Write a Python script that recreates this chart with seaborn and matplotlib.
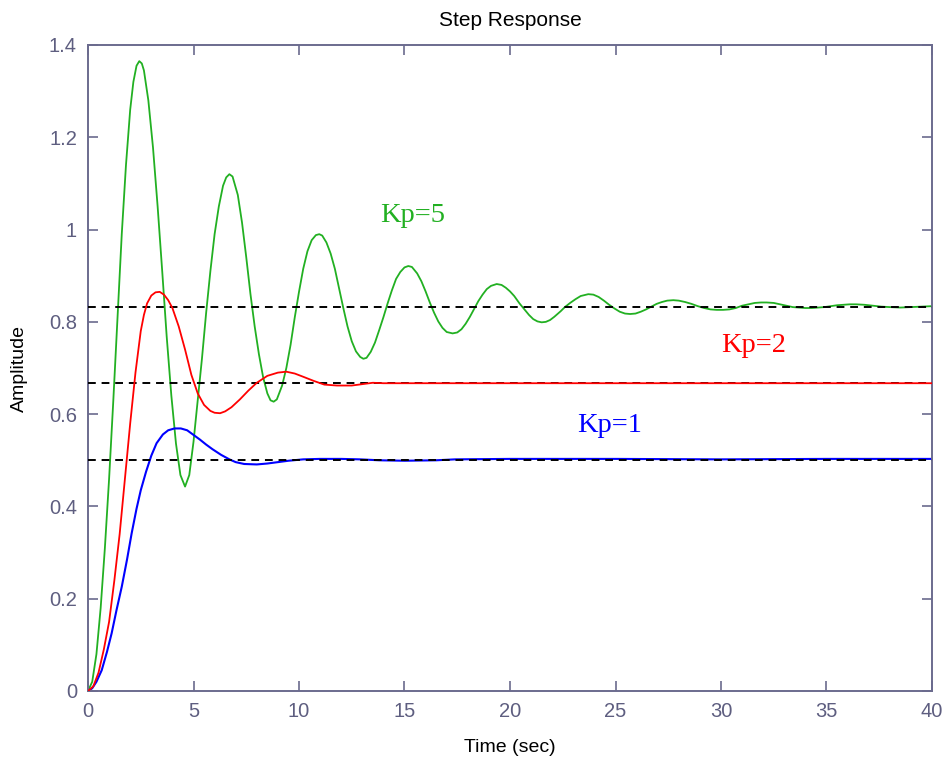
import numpy as np
import pandas as pd
import matplotlib
matplotlib.use("Agg")
import matplotlib.pyplot as plt
import seaborn as sns

# ---- data ----
t_kp5 = [0.0, 0.2, 0.4, 0.6, 0.8, 1.0, 1.2, 1.4, 1.6, 1.8, 2.0, 2.15, 2.3, 2.43, 2.55,
         2.65, 2.86, 3.08, 3.3, 3.52, 3.73, 3.95, 4.17, 4.38, 4.6, 4.8, 5.0, 5.2, 5.4,
         5.6, 5.8, 6.0, 6.2, 6.4, 6.55, 6.7, 6.85, 7.1, 7.3, 7.5, 7.7, 7.9, 8.1, 8.3,
         8.5, 8.65, 8.8, 8.95, 9.2, 9.4, 9.6, 9.8, 10.0, 10.2, 10.4, 10.6, 10.8, 10.96,
         11.1, 11.3, 11.5, 11.7, 11.9, 12.1, 12.3, 12.5, 12.7, 12.9, 13.05, 13.2, 13.4,
         13.6, 13.8, 14.0, 14.2, 14.4, 14.6, 14.8, 15.0, 15.18, 15.35, 15.6, 15.8, 16.0,
         16.2, 16.4, 16.6, 16.8, 17.0, 17.28, 17.5, 17.7, 17.9, 18.1, 18.3, 18.5, 18.7,
         18.9, 19.1, 19.37, 19.6, 19.8, 20.0, 20.2, 20.45, 20.7, 20.9, 21.1, 21.3, 21.5,
         21.7, 21.9, 22.1, 22.4, 22.6, 22.85, 23.1, 23.35, 23.71, 23.95, 24.2, 24.45,
         24.7, 24.95, 25.2, 25.45, 25.69, 25.95, 26.2, 26.45, 26.7, 26.95, 27.2, 27.45,
         27.74, 28.0, 28.3, 28.6, 28.9, 29.2, 29.5, 29.8, 30.1, 30.4, 30.7, 31.0, 31.3,
         31.6, 31.9, 32.17, 32.5, 32.8, 33.1, 33.4, 33.7, 34.0, 34.3, 34.6, 34.9, 35.2,
         35.5, 35.8, 36.1, 36.4, 36.8, 37.2, 37.6, 38.0, 38.5, 39.0, 39.5, 40.0]
y_kp5 = [0.000, 0.020, 0.080, 0.180, 0.310, 0.460, 0.630, 0.810, 0.990, 1.140, 1.260,
         1.320, 1.355, 1.365, 1.360, 1.345, 1.280, 1.178, 1.050, 0.908, 0.768, 0.640,
         0.536, 0.468, 0.443, 0.468, 0.540, 0.630, 0.720, 0.820, 0.910, 0.990, 1.050,
         1.095, 1.113, 1.120, 1.115, 1.075, 1.015, 0.940, 0.860, 0.790, 0.730, 0.680,
         0.645, 0.630, 0.627, 0.632, 0.662, 0.700, 0.750, 0.810, 0.865, 0.915, 0.953,
         0.977, 0.988, 0.990, 0.987, 0.972, 0.948, 0.915, 0.872, 0.830, 0.790, 0.758,
         0.736, 0.724, 0.720, 0.722, 0.735, 0.755, 0.782, 0.810, 0.840, 0.868, 0.893,
         0.908, 0.918, 0.921, 0.919, 0.905, 0.888, 0.866, 0.842, 0.820, 0.801, 0.787,
         0.778, 0.775, 0.777, 0.784, 0.796, 0.811, 0.828, 0.845, 0.859, 0.871, 0.878,
         0.882, 0.880, 0.874, 0.866, 0.856, 0.840, 0.826, 0.815, 0.806, 0.801, 0.799,
         0.800, 0.804, 0.811, 0.823, 0.832, 0.841, 0.849, 0.856, 0.860, 0.859, 0.854,
         0.846, 0.837, 0.829, 0.822, 0.818, 0.817, 0.818, 0.822, 0.827, 0.833, 0.839,
         0.843, 0.846, 0.847, 0.846, 0.843, 0.839, 0.834, 0.830, 0.827, 0.826, 0.826,
         0.827, 0.830, 0.835, 0.838, 0.841, 0.842, 0.842, 0.841, 0.838, 0.835, 0.832,
         0.831, 0.830, 0.830, 0.831, 0.832, 0.834, 0.836, 0.837, 0.838, 0.838, 0.837,
         0.835, 0.833, 0.832, 0.831, 0.832, 0.833, 0.834]

t_kp2 = [0.0, 0.25, 0.5, 0.75, 1.0, 1.25, 1.5, 1.75, 2.0, 2.25, 2.5, 2.65, 2.8, 3.0,
         3.2, 3.4, 3.6, 3.8, 4.0, 4.3, 4.6, 4.9, 5.2, 5.5, 5.8, 6.0, 6.26, 6.5, 6.8,
         7.2, 7.6, 8.0, 8.5, 9.0, 9.4, 9.8, 10.2, 10.7, 11.2, 11.8, 12.5, 13.0, 13.5,
         14.0, 20.0, 30.0, 40.0]
y_kp2 = [0.000, 0.010, 0.040, 0.090, 0.150, 0.240, 0.340, 0.460, 0.580, 0.690, 0.780,
         0.815, 0.840, 0.857, 0.864, 0.865, 0.859, 0.847, 0.830, 0.790, 0.740, 0.685,
         0.645, 0.620, 0.607, 0.603, 0.602, 0.606, 0.615, 0.632, 0.651, 0.668, 0.683,
         0.690, 0.692, 0.688, 0.681, 0.672, 0.664, 0.662, 0.662, 0.665, 0.668, 0.667,
         0.667, 0.667, 0.667]

t_kp1 = [0.0, 0.2, 0.4, 0.65, 0.9, 1.12, 1.35, 1.6, 1.85, 2.07, 2.3, 2.5, 2.75, 3.0,
         3.25, 3.55, 3.8, 4.1, 4.4, 4.7, 5.0, 5.3, 5.6, 5.9, 6.3, 6.7, 7.0, 7.4, 8.0,
         8.5, 9.0, 9.5, 10.2, 11.0, 12.0, 12.9, 13.8, 15.0, 16.5, 17.4, 20.0, 25.0,
         30.0, 35.0, 40.0]
y_kp1 = [0.000, 0.006, 0.020, 0.045, 0.085, 0.125, 0.175, 0.226, 0.285, 0.342, 0.395,
         0.435, 0.475, 0.510, 0.537, 0.556, 0.565, 0.569, 0.569, 0.565, 0.555, 0.545,
         0.534, 0.524, 0.512, 0.502, 0.496, 0.492, 0.491, 0.493, 0.496, 0.499, 0.502,
         0.503, 0.503, 0.502, 0.500, 0.499, 0.500, 0.502, 0.503, 0.503, 0.502, 0.503,
         0.503]

steady_values = [0.5, 0.667, 0.833]
series_names = ["Kp=1", "Kp=2", "Kp=5"]
series_colors = ["#0000ff", "#ff0000", "#22b022"]
label_t = [24.74, 31.53, 15.38]
label_y = [0.575, 0.748, 1.030]

x_ticks = [0, 5, 10, 15, 20, 25, 30, 35, 40]
y_ticks = [0, 0.2, 0.4, 0.6, 0.8, 1.0, 1.2, 1.4]
y_tick_labels = ["0", "0.2", "0.4", "0.6", "0.8", "1", "1.2", "1.4"]

# ---- plotting ----
sns.set_style("white")
plt.rcParams["font.family"] = ["Liberation Sans", "DejaVu Sans"]

axis_col = "#6b6b8e"
tick_lab_col = "#5e5e80"

fig = plt.figure(figsize=(9.44, 7.6), dpi=100)
ax = fig.add_axes([88 / 944, 1 - 691 / 760, (932 - 88) / 944, (691 - 45) / 760])

df1 = pd.DataFrame({"t": t_kp1, "y": y_kp1})
df2 = pd.DataFrame({"t": t_kp2, "y": y_kp2})
df5 = pd.DataFrame({"t": t_kp5, "y": y_kp5})

sns.lineplot(data=df5, x="t", y="y", ax=ax, color=series_colors[2], lw=1.3, zorder=2)
sns.lineplot(data=df1, x="t", y="y", ax=ax, color=series_colors[0], lw=1.5, zorder=2)
for v in steady_values:
    ax.axhline(v, color="black", lw=1.4, ls=(0, (4, 3)), zorder=3)
sns.lineplot(data=df2, x="t", y="y", ax=ax, color=series_colors[1], lw=1.3, zorder=4)

for name, col, tx, ty in zip(series_names, series_colors, label_t, label_y):
    ax.text(tx, ty, name, color=col, fontsize=20.5, ha="center", va="center",
            family=["Liberation Serif", "DejaVu Serif"], zorder=5)

ax.set_xlim(0, 40)
ax.set_ylim(0, 1.4)
ax.set_xticks(x_ticks)
ax.set_xticklabels([str(v) for v in x_ticks])
ax.set_yticks(y_ticks)
ax.set_yticklabels(y_tick_labels)
ax.tick_params(axis="both", which="both", direction="in", length=7, width=1.2,
               color=axis_col, labelcolor=tick_lab_col, labelsize=14.5, pad=8,
               top=True, right=True, bottom=True, left=True)
for sp in ax.spines.values():
    sp.set_visible(True)
    sp.set_color(axis_col)
    sp.set_linewidth(1.4)

ax.set_xlabel("Time (sec)", fontsize=14, color="black", labelpad=13)
ax.set_ylabel("Amplitude", fontsize=14, color="black")
ax.yaxis.set_label_coords(-(88 - 28) / 844, 0.5)
ax.set_title("Step Response", fontsize=15, color="black", pad=14)

fig.savefig("out.png", dpi=100, facecolor="white")
